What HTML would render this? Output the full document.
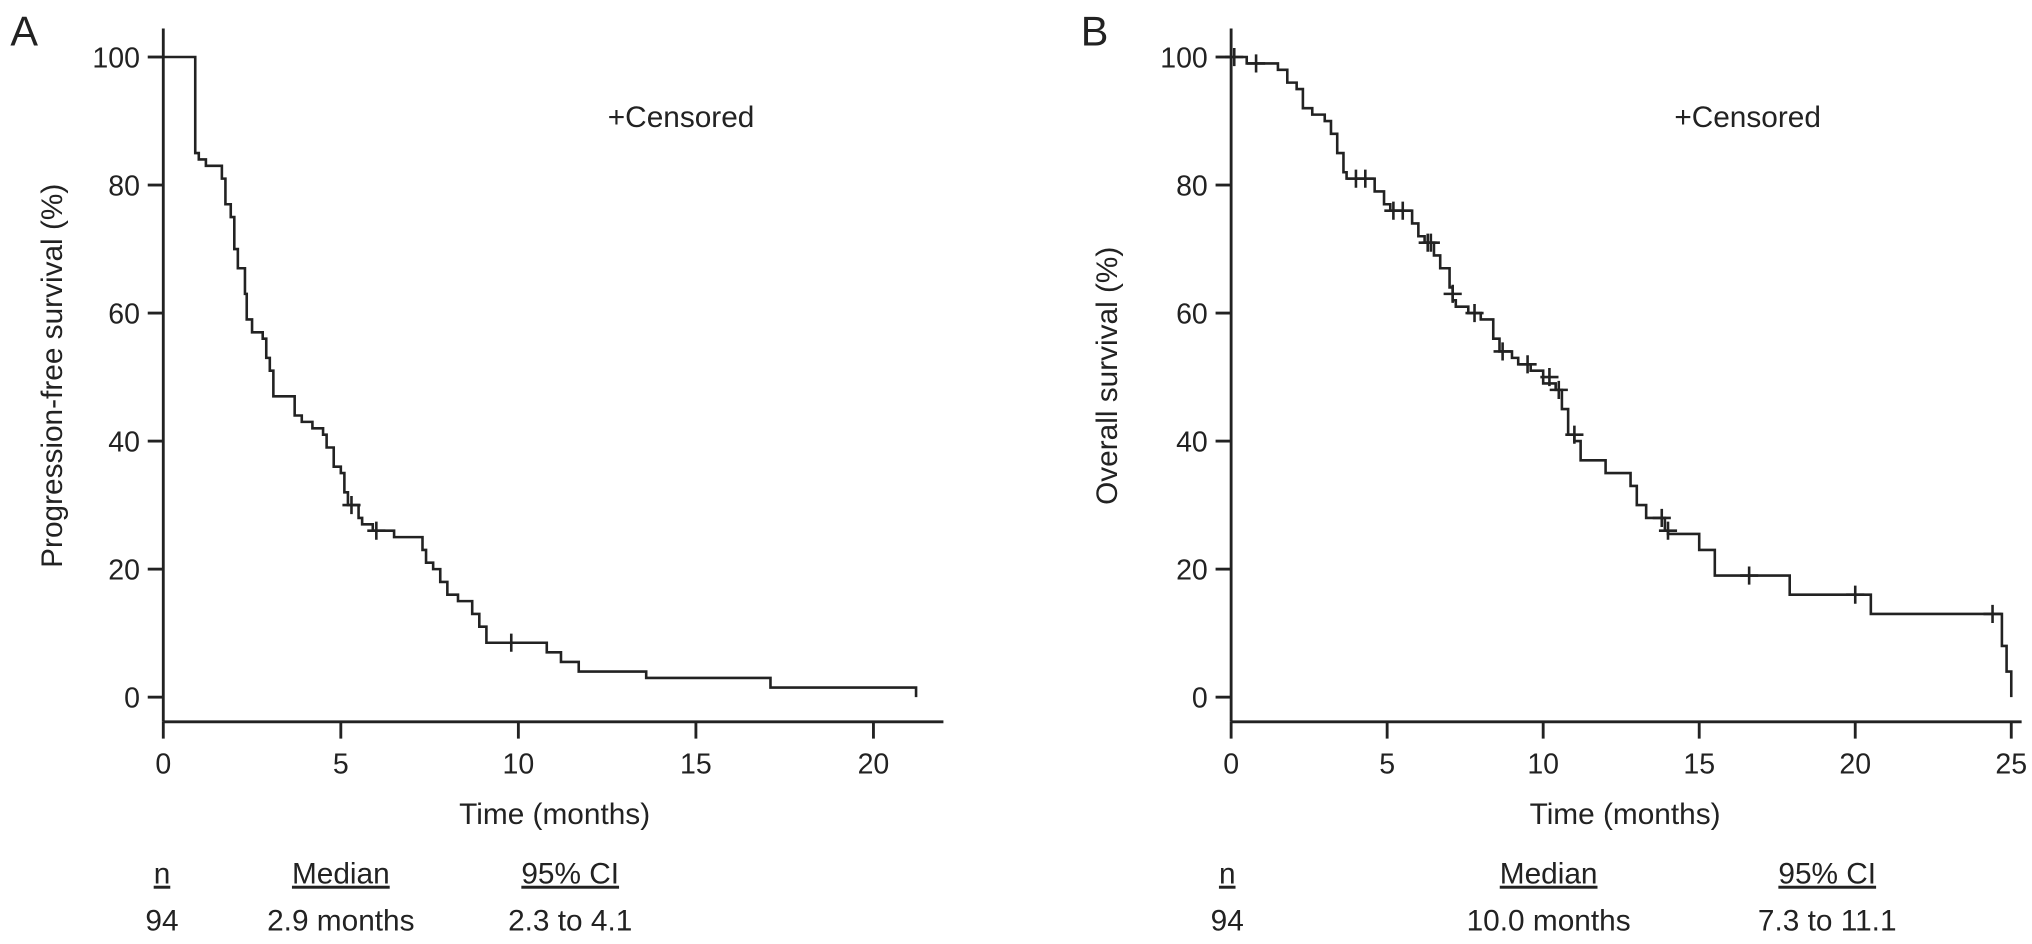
<!DOCTYPE html>
<html><head><meta charset="utf-8"><style>
html,body{margin:0;padding:0;background:#fff;}
svg{display:block;font-family:"Liberation Sans",Arial,sans-serif;}
</style></head><body>
<svg id="fig" width="2032" height="944" viewBox="0 0 1568 728.5" preserveAspectRatio="none" xmlns="http://www.w3.org/2000/svg">
<g id="pA"></g>
<g id="pB"></g>
</svg>
<script>
// Panel A: progression-free survival
const aTimes = [0,0.9,1.0,1.2,1.65,1.75,1.9,2.0,2.1,2.3,2.35,2.5,2.8,2.9,3.0,3.1,3.7,3.9,4.2,4.5,4.6,4.8,5.0,5.1,5.2,5.5,5.6,5.9,6.5,7.3,7.4,7.6,7.8,8.0,8.3,8.7,8.9,9.1,9.3,10.8,11.2,11.7,13.6,17.1,21.2];
const aSurv  = [100,85,84,83,81,77,75,70,67,63,59,57,56,53,51,47,44,43,42,41,39,36,35,32,30,28,27,26,25,23,21,20,18,16,15,13,11,8.5,8.5,7,5.5,4,3,1.5,0];
const aCensT = [5.3,6.0,9.8];
const aCensS = [30,26,8.5];
const aXTicks = [0,5,10,15,20];
// Panel B: overall survival
const bTimes = [0,0.5,1.5,1.8,2.1,2.3,2.6,3.0,3.2,3.4,3.6,3.7,4.6,4.9,5.1,5.8,6.0,6.2,6.5,6.7,7.0,7.1,7.2,7.6,8.0,8.4,8.6,9.0,9.2,9.6,10.0,10.4,10.6,10.8,11.0,11.2,12.0,12.8,13.0,13.3,13.9,14.0,15.0,15.5,17.9,20.5,24.7,24.85,25.0];
const bSurv  = [100,99,98,96,95,92,91,90,88,85,82,81,79,77,76,74,72,71,69,67,64,62,61,60,59,56,54,53,52,51,49,48,45,41,40,37,35,33,30,28,26,25.5,23,19,16,13,8,4,0];
const bCensT = [0.1,0.8,4.0,4.3,5.2,5.5,6.3,6.4,7.1,7.8,8.7,9.5,10.2,10.5,11.0,13.8,14.0,16.6,20.0,24.4];
const bCensS = [100,99,81,81,76,76,71,71,63,60,54,52,50,48,41,28,26,19,16,13];
const bXTicks = [0,5,10,15,20,25];
const yTicks = [0,20,40,60,80,100];

const NS='http://www.w3.org/2000/svg';
function mk(parent,tag,attrs,text){const e=document.createElementNS(NS,tag);for(const k in attrs)e.setAttribute(k,attrs[k]);if(text!==undefined)e.textContent=text;parent.appendChild(e);return e;}

function panel(g,cfg){
  const x=t=>cfg.x0+t*cfg.xs;
  const y=v=>538-v*4.94;
  const st={stroke:'#222','stroke-width':2.2,fill:'none'};
  let e=mk(g,'line',Object.assign({x1:cfg.x0,y1:22,x2:cfg.x0,y2:557},st));
  
  
  e=mk(g,'line',Object.assign({x1:cfg.x0,y1:557,x2:cfg.xEndAxis,y2:557},st));
  
  
  yTicks.forEach(v=>{
    const t=mk(g,'line',Object.assign({x1:cfg.x0-12,y1:y(v),x2:cfg.x0,y2:y(v)},st));
    
    
    const l=mk(g,'text',{x:cfg.x0-18,y:y(v)+8,'text-anchor':'end','font-size':22,fill:'#222'},String(v));
    
    
  });
  cfg.xticks.forEach(v=>{
    const t=mk(g,'line',Object.assign({x1:x(v),y1:557,x2:x(v),y2:570},st));
    
    
    const l=mk(g,'text',{x:x(v),y:597,'text-anchor':'middle','font-size':22,fill:'#222'},String(v));
    
    
  });
  let d='M'+x(cfg.t[0])+','+y(cfg.s[0]);
  for(let i=1;i<cfg.t.length;i++){d+=' H'+x(cfg.t[i])+' V'+y(cfg.s[i]);}
  const p=mk(g,'path',{d:d,stroke:'#222','stroke-width':2,fill:'none'});
  
  
  cfg.ct.forEach((t,i)=>{
    const c=mk(g,'path',{d:`M${x(t)-7},${y(cfg.cs[i])} h14 M${x(t)},${y(cfg.cs[i])-7} v14`,stroke:'#222','stroke-width':2,fill:'none'});
    
    
  });
}
const gA=document.getElementById('pA'), gB=document.getElementById('pB');
panel(gA,{x0:126,xs:27.4,xEndAxis:728,xticks:aXTicks,t:aTimes,s:aSurv,ct:aCensT,cs:aCensS});
panel(gB,{x0:950,xs:24.08,xEndAxis:1560,xticks:bXTicks,t:bTimes,s:bSurv,ct:bCensT,cs:bCensS});

function txt(g,name,attrs,s){const e=mk(g,'text',Object.assign({fill:'#222'},attrs),s);return e;}
txt(gA,'panel-label',{x:8,y:35,'font-size':32},'A');
txt(gB,'panel-label',{x:834,y:35,'font-size':32},'B');
txt(gA,'legend-censored',{x:469,y:98,'font-size':23},'+Censored');
txt(gB,'legend-censored',{x:1292,y:98,'font-size':23},'+Censored');
txt(gA,'y-axis-title',{x:48,y:290,'font-size':23,'text-anchor':'middle',transform:'rotate(-90 48 290)'},'Progression-free survival (%)');
txt(gB,'y-axis-title',{x:862,y:290,'font-size':23,'text-anchor':'middle',transform:'rotate(-90 862 290)'},'Overall survival (%)');
txt(gA,'x-axis-title',{x:428,y:636,'font-size':23,'text-anchor':'middle'},'Time (months)');
txt(gB,'x-axis-title',{x:1254,y:636,'font-size':23,'text-anchor':'middle'},'Time (months)');
function table(g,cols,vals){
  cols.forEach((c,i)=>{
    txt(g,'table-header',{x:c[0],y:682,'font-size':23,'text-anchor':'middle','text-decoration':'underline'},c[1]);
    txt(g,'table-value',{x:c[0],y:718,'font-size':23,'text-anchor':'middle'},vals[i]);
  });
}
table(gA,[[125,'n'],[263,'Median'],[440,'95% CI']],['94','2.9 months','2.3 to 4.1']);
table(gB,[[947,'n'],[1195,'Median'],[1410,'95% CI']],['94','10.0 months','7.3 to 11.1']);
</script>
</body></html>
